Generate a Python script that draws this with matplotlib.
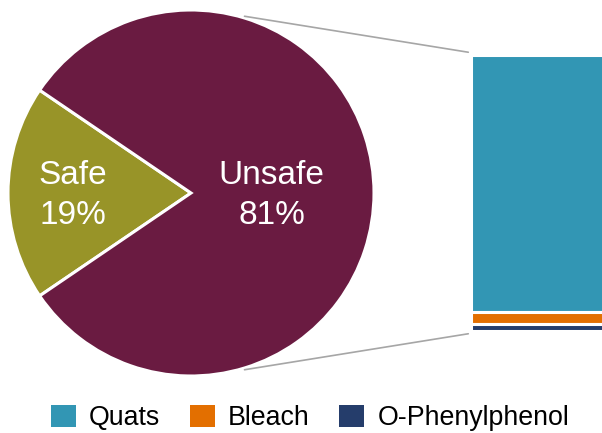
import numpy as np
import matplotlib
import matplotlib.pyplot as plt
from matplotlib.patches import ConnectionPatch, Patch

matplotlib.rcParams['font.family'] = ['Liberation Sans', 'DejaVu Sans']

# 饼图数据
pie_labels = ['Safe', 'Unsafe']
pie_values = [19, 81]
pie_colors = ['#989428', '#6a1b41']

# 右侧堆叠条数据（从上到下）
bar_labels = ['Quats', 'Bleach', 'O-Phenylphenol']
bar_values = [93, 4.5, 2.5]
bar_colors = ['#3296b4', '#e36f00', '#253d6b']

fig = plt.figure(figsize=(6.02, 4.33), dpi=100)
W, H = 602, 433

# 饼图坐标轴
ax1 = fig.add_axes([8 / W, (H - 376) / H, 366 / W, 366 / H])
start = 180 - pie_values[0] / 100 * 360 / 2
wedges, _ = ax1.pie(pie_values, colors=pie_colors, startangle=start, radius=1,
                    wedgeprops=dict(edgecolor='white', linewidth=2.2))
ax1.set_xlim(-1, 1)
ax1.set_ylim(-1, 1)
ax1.set_aspect('equal')

# 标签位置
dists = [0.645, 0.44]
for w, name, v, d in zip(wedges, pie_labels, pie_values, dists):
    ang = np.deg2rad((w.theta1 + w.theta2) / 2)
    ax1.text(d * np.cos(ang), d * np.sin(ang) - 0.015, f'{name}\n{v}%',
             ha='center', va='center', color='white', fontsize=24,
             linespacing=1.38)

# 条形图坐标轴
ax2 = fig.add_axes([471 / W, (H - 331) / H, 136 / W, 276 / H])
bottom = sum(bar_values)
for name, v, c in zip(bar_labels, bar_values, bar_colors):
    bottom -= v
    ax2.bar(0, v, bottom=bottom, width=1, color=c, edgecolor='white',
            linewidth=2.2, label=name)
ax2.set_xlim(-0.5, 0.5)
ax2.set_ylim(0, sum(bar_values))
ax2.axis('off')

# 连接线
theta = np.deg2rad(73)
for sign, yb in [(1, sum(bar_values)), (-1, 0)]:
    con = ConnectionPatch(xyA=(np.cos(theta), sign * np.sin(theta) * 1.01),
                          coordsA=ax1.transData,
                          xyB=(-0.52, yb + sign * 1.0), coordsB=ax2.transData,
                          color='#a6a6a6', linewidth=1.2)
    fig.add_artist(con)

# 图例
handles = [Patch(facecolor=c, edgecolor='none') for c in bar_colors]
fig.legend(handles, bar_labels, loc='center', bbox_to_anchor=(310 / W, 1 - 418 / H),
           ncol=3, frameon=False, fontsize=19.3, handlelength=0.93, handleheight=0.93,
           handletextpad=0.5, columnspacing=1.1)

plt.savefig('out.png', dpi=100)
